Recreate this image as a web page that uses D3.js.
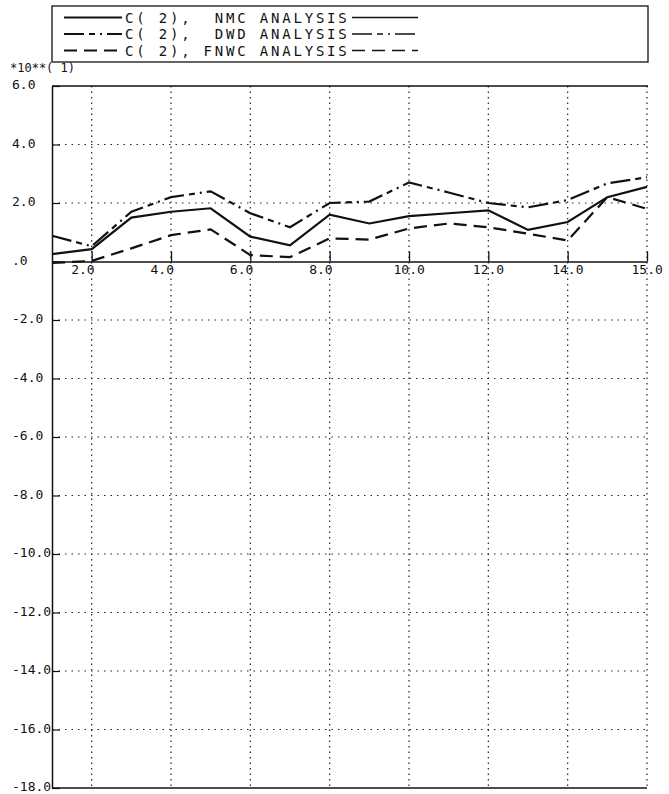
<!DOCTYPE html>
<html>
<head>
<meta charset="utf-8">
<script src="https://cdn.jsdelivr.net/npm/d3@7"></script>
<style>
  body { margin: 0; background: #fff; }
  text { font-family: "DejaVu Sans Mono", "Liberation Mono", monospace; fill: #111; }
</style>
</head>
<body>
<div id="chart"></div>
<script>
const days = [1, 2, 3, 4, 5, 6, 7, 8, 9, 10, 11, 12, 13, 14, 15, 16];
const nmc  = [0.25, 0.42, 1.5, 1.7, 1.82, 0.85, 0.55, 1.6, 1.3, 1.55, 1.65, 1.75, 1.08, 1.35, 2.2, 2.55];
const dwd  = [0.88, 0.52, 1.7, 2.2, 2.4, 1.65, 1.17, 2.0, 2.05, 2.7, 2.36, 2.0, 1.85, 2.1, 2.67, 2.88];
const fnwc = [-0.05, 0.02, 0.45, 0.9, 1.1, 0.22, 0.15, 0.79, 0.75, 1.13, 1.3, 1.17, 0.95, 0.72, 2.2, 1.8];

const seriesNames = ["C( 2),  NMC ANALYSIS", "C( 2),  DWD ANALYSIS", "C( 2), FNWC ANALYSIS"];

const xTicks = [2, 4, 6, 8, 10, 12, 14, 16];
const xTickLabels = ["2.0", "4.0", "6.0", "8.0", "10.0", "12.0", "14.0", "15.0"];
const yTicks = [6, 4, 2, 0, -2, -4, -6, -8, -10, -12, -14, -16, -18];
const yTickLabels = ["6.0", "4.0", "2.0", ".0", "-2.0", "-4.0", "-6.0", "-8.0", "-10.0", "-12.0", "-14.0", "-16.0", "-18.0"];
const scaleLabel = "*10**(  1)";

const svgWidth = 669, svgHeight = 794;
const plot = { left: 52, right: 647, top: 86, bottom: 788 };

const svg = d3.select("#chart")
  .append("svg")
  .attr("width", svgWidth)
  .attr("height", svgHeight);

const x = d3.scaleLinear().domain([1, 16]).range([plot.left, plot.right]);
const y = d3.scaleLinear().domain([-18, 6]).range([plot.bottom, plot.top]);

// grid
svg.append("g")
  .selectAll("line")
  .data(xTicks)
  .join("line")
  .attr("x1", d => x(d)).attr("x2", d => x(d))
  .attr("y1", plot.top).attr("y2", plot.bottom)
  .attr("stroke", "#222")
  .attr("stroke-width", 1.2)
  .attr("stroke-dasharray", "1.5,4");

svg.append("g")
  .selectAll("line")
  .data(yTicks.filter(d => d !== 0 && d !== 6 && d !== -18))
  .join("line")
  .attr("x1", plot.left).attr("x2", plot.right)
  .attr("y1", d => y(d)).attr("y2", d => y(d))
  .attr("stroke", "#222")
  .attr("stroke-width", 1.2)
  .attr("stroke-dasharray", "1.5,5");

// frame
svg.append("line")
  .attr("x1", plot.left).attr("x2", plot.right + 1)
  .attr("y1", plot.top).attr("y2", plot.top)
  .attr("stroke", "#111").attr("stroke-width", 1.5);
svg.append("line")
  .attr("x1", plot.left).attr("x2", plot.right)
  .attr("y1", plot.bottom).attr("y2", plot.bottom)
  .attr("stroke", "#111").attr("stroke-width", 1.5);

// y axis
const yAxis = svg.append("g")
  .attr("transform", `translate(${plot.left},0)`)
  .call(d3.axisLeft(y).tickValues(yTicks).tickSize(-8).tickSizeOuter(0)
    .tickFormat((d, i) => yTickLabels[i]));
yAxis.select(".domain").attr("stroke", "#111").attr("stroke-width", 1.5);
yAxis.selectAll(".tick line").attr("stroke", "#111").attr("stroke-width", 1.2);
yAxis.selectAll(".tick text")
  .attr("x", 12 - plot.left)
  .attr("dy", "0.2em")
  .attr("text-anchor", "start")
  .style("font-size", "13px")
  .style("font-family", "DejaVu Sans Mono, monospace")
  .attr("fill", "#111");

// x axis at zero
const xAxis = svg.append("g")
  .attr("transform", `translate(0,${y(0)})`)
  .call(d3.axisBottom(x).tickValues(xTicks).tickSize(-10).tickSizeOuter(0).tickPadding(3)
    .tickFormat((d, i) => xTickLabels[i]));
xAxis.select(".domain").attr("stroke", "#111").attr("stroke-width", 1.3);
xAxis.selectAll(".tick line").attr("stroke", "#111").attr("stroke-width", 1.3);
xAxis.selectAll(".tick text")
  .attr("text-anchor", "start")
  .attr("x", (d, i) => -21 + (xTickLabels[i].length - 3) * 5)
  .style("font-size", "13px")
  .style("font-family", "DejaVu Sans Mono, monospace")
  .attr("fill", "#111");

svg.append("text")
  .attr("x", 10)
  .attr("y", 72)
  .style("font-size", "12px")
  .text(scaleLabel);

// series
const dashes = [null, "20,5,6,5,2,5", "13,7"];
const seriesData = [nmc, dwd, fnwc];

const line = d3.line()
  .x((d, i) => x(days[i]))
  .y(d => y(d));

svg.append("g")
  .selectAll("path")
  .data(seriesData)
  .join("path")
  .attr("d", d => line(d))
  .attr("fill", "none")
  .attr("stroke", "#111")
  .attr("stroke-width", 2.2)
  .attr("stroke-dasharray", (d, i) => dashes[i]);

// legend
const legend = svg.append("g");
legend.append("rect")
  .attr("x", 52).attr("y", 6)
  .attr("width", 596).attr("height", 56)
  .attr("fill", "none")
  .attr("stroke", "#111")
  .attr("stroke-width", 1.3);

const rowY = [17.5, 34, 50.5];
const rows = legend.selectAll("g.row")
  .data(seriesNames)
  .join("g")
  .attr("class", "row")
  .attr("transform", (d, i) => `translate(0,${rowY[i]})`);

rows.append("line")
  .attr("x1", 64).attr("x2", 122)
  .attr("stroke", "#111").attr("stroke-width", 2)
  .attr("stroke-dasharray", (d, i) => dashes[i]);

rows.append("line")
  .attr("x1", 352).attr("x2", 418)
  .attr("stroke", "#111").attr("stroke-width", 1.5)
  .attr("stroke-dasharray", (d, i) => dashes[i]);

rows.append("text")
  .attr("x", 125)
  .attr("y", 5)
  .style("font-size", "14px")
  .style("letter-spacing", "2.8px")
  .style("white-space", "pre")
  .attr("xml:space", "preserve")
  .text(d => d);
</script>
</body>
</html>
